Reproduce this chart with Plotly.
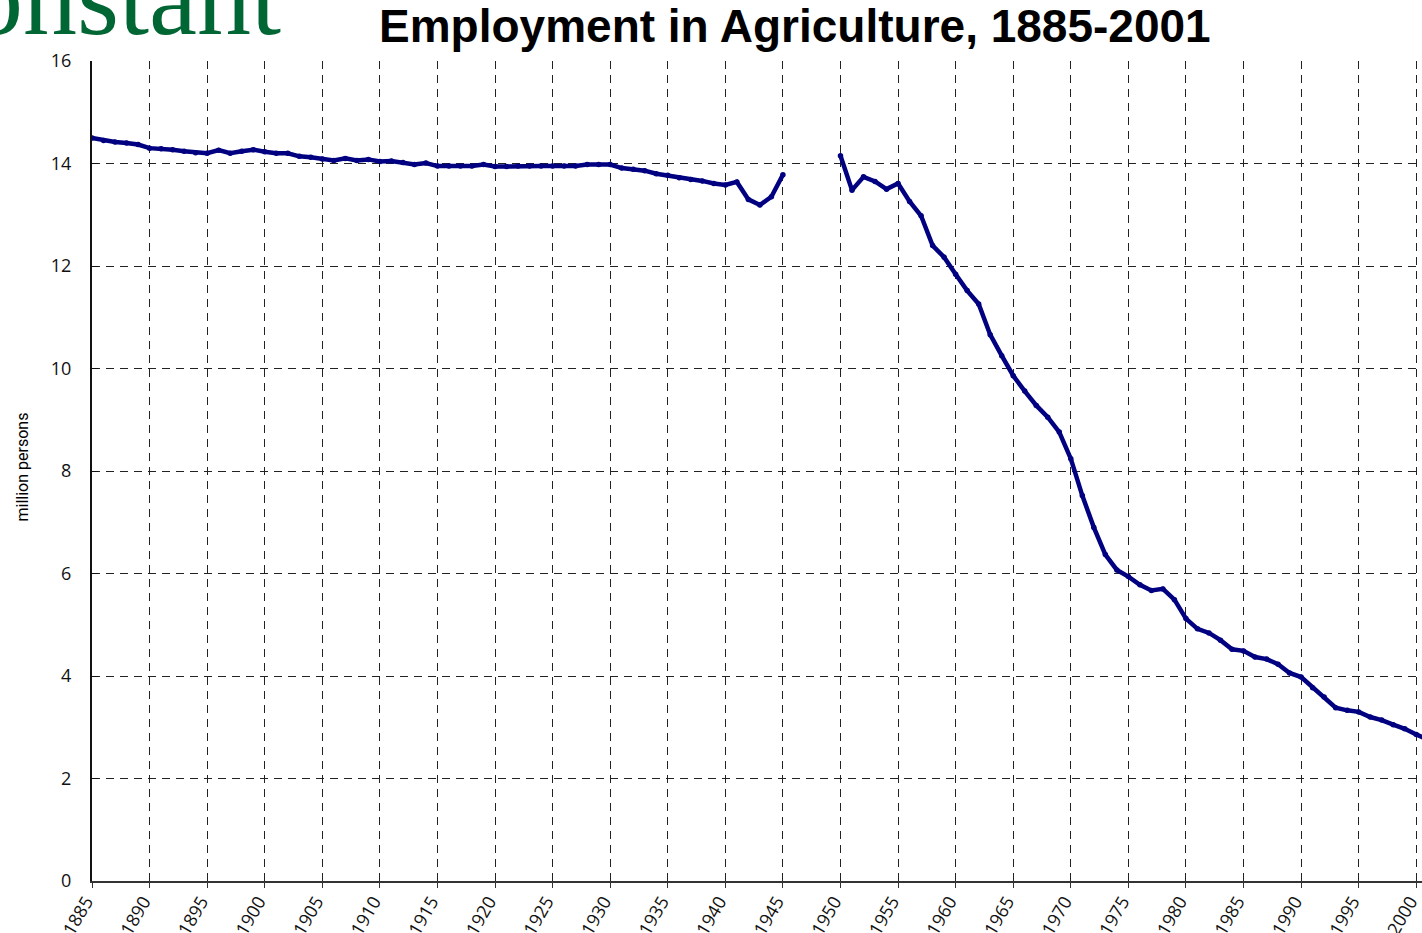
import plotly.graph_objects as go

years = list(range(1885, 2002))

employment_1885_1945 = [
    14.50, 14.45, 14.42, 14.40, 14.37, 14.30, 14.29, 14.27, 14.24, 14.21,
    14.20, 14.26, 14.20, 14.24, 14.27, 14.23, 14.20, 14.20, 14.14, 14.12,
    14.09, 14.06, 14.10, 14.06, 14.08, 14.04, 14.05, 14.02, 13.98, 14.01,
    13.95, 13.95, 13.95, 13.95, 13.98, 13.94, 13.94, 13.95, 13.95, 13.95,
    13.95, 13.95, 13.95, 13.98, 13.98, 13.98, 13.91, 13.89, 13.86, 13.80,
    13.77, 13.72, 13.69, 13.66, 13.61, 13.58, 13.64, 13.30, 13.19, 13.35,
    13.78,
]
employment_1946_1949 = [None, None, None, None]
employment_1950_2001 = [
    14.15, 13.48, 13.74, 13.65, 13.50, 13.61, 13.26, 12.98, 12.40, 12.17,
    11.84, 11.52, 11.26, 10.66, 10.25, 9.86, 9.56, 9.28, 9.05, 8.76,
    8.24, 7.52, 6.90, 6.37, 6.07, 5.94, 5.78, 5.67, 5.70, 5.49,
    5.12, 4.92, 4.84, 4.70, 4.52, 4.49, 4.37, 4.33, 4.23, 4.06,
    3.98, 3.77, 3.59, 3.38, 3.33, 3.30, 3.20, 3.14, 3.05, 2.97,
    2.86, 2.76,
]
employment = employment_1885_1945 + employment_1946_1949 + employment_1950_2001

x_tick_years = list(range(1885, 2001, 5))
title_text = "Employment in Agriculture, 1885-2001"
y_title = "million persons"
logo_text = "Constant"

fig = go.Figure()
fig.add_trace(go.Scatter(
    x=years, y=employment, mode="lines+markers",
    line=dict(color="#000080", width=4.5),
    marker=dict(color="#000080", size=5.5),
    connectgaps=False, showlegend=False, cliponaxis=True,
))

tick_font = dict(family="Open Sans", size=18, color="#111")
fig.update_layout(
    width=1422, height=933,
    margin=dict(l=92, r=0, t=61, b=52),
    paper_bgcolor="white", plot_bgcolor="white",
    xaxis=dict(
        range=[1885, 2000.5], tickmode="array", tickvals=x_tick_years,
        ticktext=[str(v) for v in x_tick_years], tickangle=-60,
        showgrid=True, gridcolor="#222", gridwidth=1, griddash="8px,6px",
        showline=True, linecolor="#333", linewidth=2,
        ticks="outside", ticklen=5, tickcolor="#333",
        tickfont=tick_font, ticklabelstandoff=-4, ticklabelshift=-6,
        ticklabeloverflow="allow", zeroline=False,
        automargin=False,
    ),
    yaxis=dict(
        range=[0, 16], tick0=0, dtick=2,
        showgrid=True, gridcolor="#222", gridwidth=1, griddash="8px,6px",
        showline=True, linecolor="#111", linewidth=2,
        ticks="inside", ticklen=6, tickcolor="#111",
        tickfont=tick_font, ticklabelstandoff=15, zeroline=False,
        automargin=False,
    ),
    annotations=[
        dict(text="<b>" + title_text + "</b>", xref="paper", yref="paper",
             x=(794.5 - 92) / 1330, y=(881.5 - 26.5) / 820,
             xanchor="center", yanchor="middle", showarrow=False,
             font=dict(family="Liberation Sans", size=46, color="black")),
        dict(text=y_title, xref="paper", yref="paper",
             x=(22 - 92) / 1330, y=(881.5 - 468) / 820, textangle=-90,
             xanchor="center", yanchor="middle", showarrow=False,
             font=dict(family="Roboto", size=16, color="black")),
        dict(text=logo_text, xref="paper", yref="paper",
             x=(283 - 92) / 1330, y=(881.5 + 2) / 820,
             xanchor="right", yanchor="middle", showarrow=False,
             font=dict(family="Liberation Serif", size=108, color="#006633")),
    ],
)

fig.write_html("out.html", config={"displayModeBar": False},
               post_script="document.body.style.margin='0';document.body.style.overflow='hidden';")
